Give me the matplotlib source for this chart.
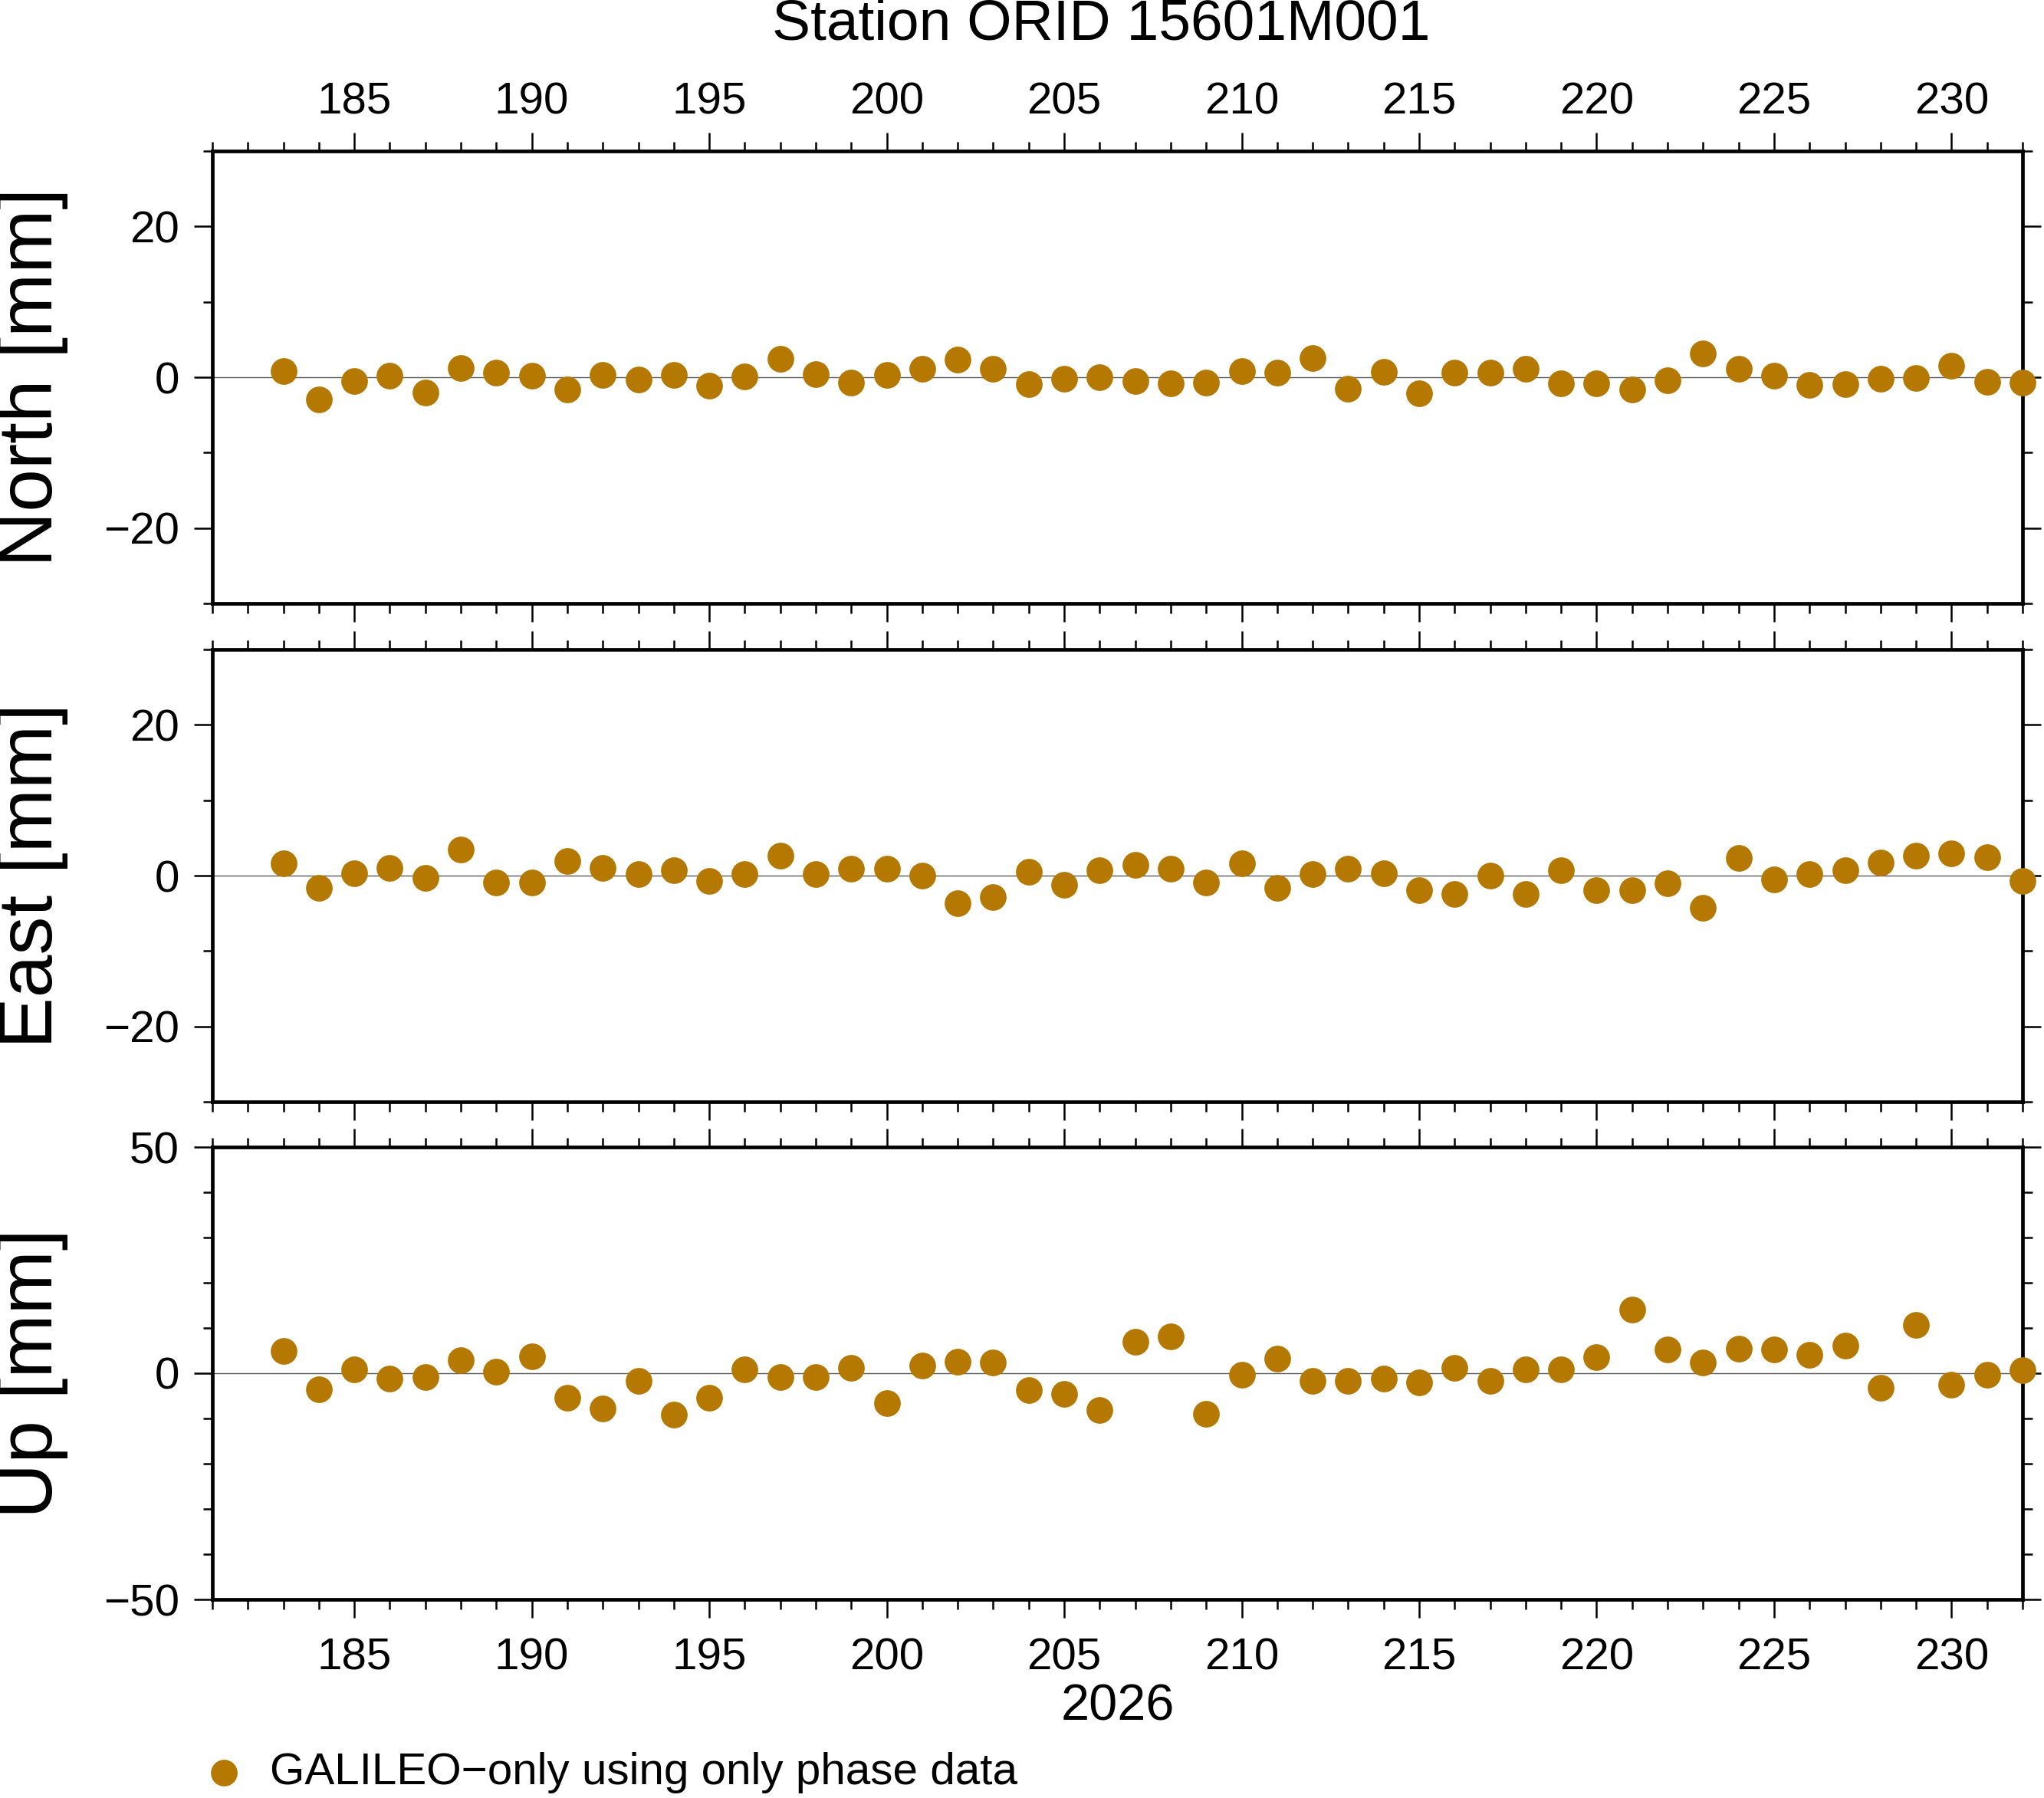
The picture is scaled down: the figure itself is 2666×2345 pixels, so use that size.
import numpy as np
import matplotlib
matplotlib.use("Agg")
import matplotlib.pyplot as plt
from matplotlib.ticker import MultipleLocator

plt.rcParams['font.family'] = ['Liberation Sans', 'DejaVu Sans']

# day of year 2026
days = [183, 184, 185, 186, 187, 188, 189, 190, 191, 192,
        193, 194, 195, 196, 197, 198, 199, 200, 201, 202,
        203, 204, 205, 206, 207, 208, 209, 210, 211, 212,
        213, 214, 215, 216, 217, 218, 219, 220, 221, 222,
        223, 224, 225, 226, 227, 228, 229, 230, 231, 232]

north = [0.8, -2.9, -0.5, 0.2, -2.0, 1.2, 0.6, 0.2, -1.6, 0.3,
         -0.3, 0.3, -1.1, 0.1, 2.4, 0.4, -0.7, 0.3, 1.1, 2.3,
         1.1, -0.9, -0.2, 0.0, -0.5, -0.8, -0.7, 0.8, 0.6, 2.5,
         -1.5, 0.7, -2.1, 0.6, 0.6, 1.1, -0.8, -0.8, -1.6, -0.4,
         3.2, 1.1, 0.2, -1.0, -0.9, -0.2, -0.1, 1.5, -0.6, -0.7]

east = [1.6, -1.6, 0.3, 1.0, -0.3, 3.5, -0.9, -0.9, 1.9, 1.0,
        0.2, 0.7, -0.7, 0.2, 2.6, 0.2, 0.9, 0.9, 0.0, -3.7,
        -2.8, 0.5, -1.2, 0.7, 1.4, 0.9, -0.9, 1.6, -1.6, 0.2,
        0.9, 0.3, -1.9, -2.4, 0.0, -2.4, 0.7, -1.9, -1.9, -1.0,
        -4.3, 2.3, -0.5, 0.2, 0.7, 1.7, 2.6, 3.0, 2.4, -0.7]

up = [4.9, -3.5, 0.9, -1.2, -0.9, 2.9, 0.3, 3.7, -5.5, -7.8,
      -1.7, -9.2, -5.5, 0.9, -0.9, -0.9, 1.2, -6.6, 1.7, 2.6,
      2.3, -3.7, -4.6, -8.1, 6.9, 8.1, -8.9, -0.3, 3.2, -1.7,
      -1.7, -1.2, -2.0, 1.2, -1.7, 0.9, 0.9, 3.5, 14.1, 5.2,
      2.3, 5.5, 5.2, 4.0, 6.1, -3.2, 10.7, -2.6, -0.3, 0.6]

components = ['North [mm]', 'East [mm]', 'Up [mm]']
ylims = [(-30, 30), (-30, 30), (-50, 50)]
ymajor = [20, 20, 50]
yminor = [10, 10, 10]
title = 'Station ORID 15601M001'
year_label = '2026'
legend_label = 'GALILEO\u2212only using only phase data'
dot_color = '#b57800'

W, H = 2666, 2345
fig = plt.figure(figsize=(W / 100, H / 100), dpi=100)

left, right = 277 / W, 2638 / W
panels = [(197, 787), (847, 1437), (1496, 2086)]

series = [north, east, up]
for i, (top, bot) in enumerate(panels):
    ax = fig.add_axes([left, 1 - bot / H, right - left, (bot - top) / H])
    ax.axhline(0, color='0.35', lw=1.0, zorder=1)
    ax.plot(days, series[i], 'o', color=dot_color, ms=25, mew=0,
            clip_on=False, zorder=3)
    ax.set_xlim(181, 232)
    ax.set_ylim(*ylims[i])
    ax.xaxis.set_major_locator(MultipleLocator(5))
    ax.xaxis.set_minor_locator(MultipleLocator(1))
    ax.yaxis.set_major_locator(MultipleLocator(ymajor[i]))
    ax.yaxis.set_minor_locator(MultipleLocator(yminor[i]))
    for s in ax.spines.values():
        s.set_linewidth(3.4)
    ax.tick_params(which='both', direction='out', top=True, right=True,
                   width=1.8, labelsize=42, color='black')
    ax.tick_params(which='major', length=17)
    ax.tick_params(which='minor', length=9)
    ax.tick_params(axis='y', pad=14)
    ax.tick_params(axis='x', labeltop=(i == 0), labelbottom=(i == 2))
    if i == 0:
        ax.tick_params(axis='x', pad=9)
    else:
        ax.tick_params(axis='x', pad=19)
    fig.text(42 / W, 1 - (top + bot) / 2 / H, components[i], rotation=90,
             ha='center', va='center', fontsize=72)

fig.text(1436 / W, 1 - 32 / H, title, ha='center', va='center', fontsize=54)
fig.text(1458 / W, 1 - 2227 / H, year_label, ha='center', va='center',
         fontsize=48)

# legend
fig.lines.append(plt.Line2D([292 / W], [1 - 2312 / H], marker='o', ms=25,
                            mew=0, color=dot_color, transform=fig.transFigure))
fig.text(352 / W, 1 - 2312 / H, legend_label, ha='left', va='center',
         fontsize=42)

fig.savefig('out.png', dpi=100)
